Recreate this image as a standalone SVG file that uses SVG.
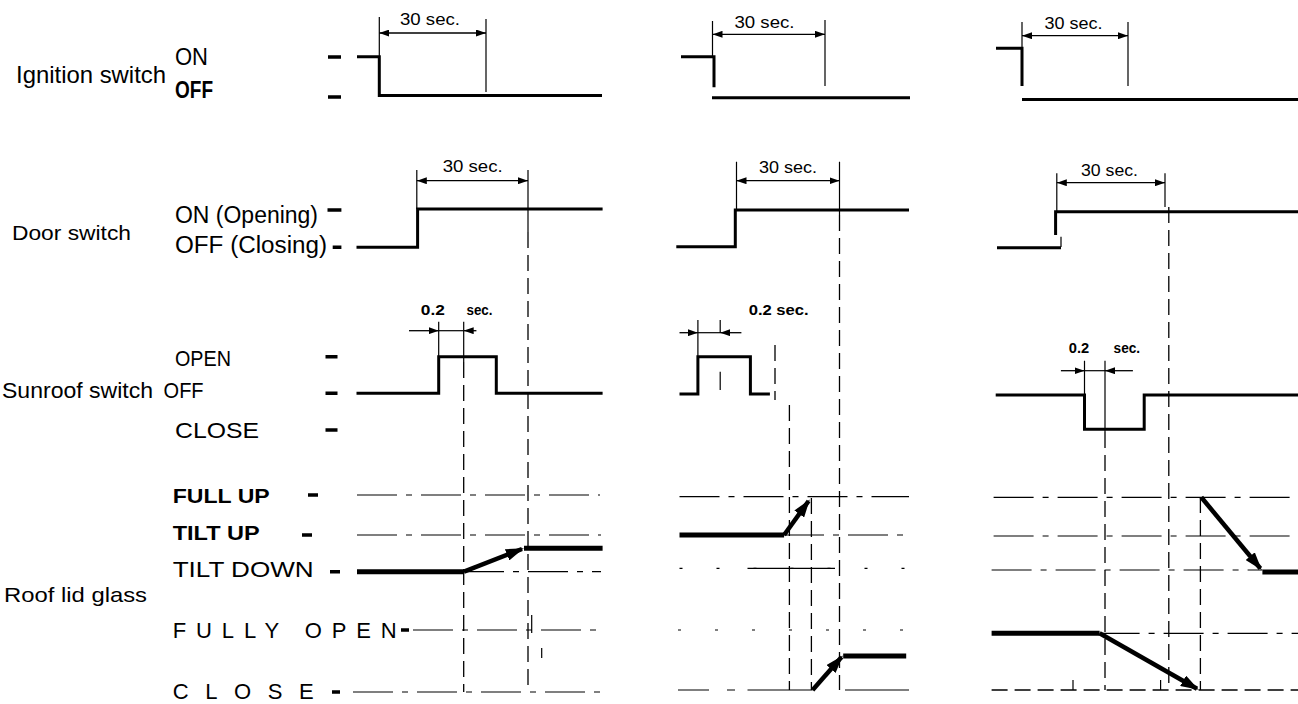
<svg xmlns="http://www.w3.org/2000/svg" width="1298" height="704" viewBox="0 0 1298 704">
<defs>
<style>
text{font-family:"Liberation Sans",Arial,sans-serif;fill:#000}
.lbl{font-size:23px}
.b{font-weight:bold}
.dimt{font-size:16px}
.small{font-size:14px;font-weight:bold}
.wave{stroke:#000;stroke-width:3;fill:none;stroke-linejoin:miter}
.thick{stroke:#000;stroke-width:5;fill:none}
.thin{stroke:#000;stroke-width:1.2;fill:none}
.dash{stroke:#000;stroke-width:1.3;fill:none;stroke-dasharray:16 7}
.dd{stroke:#000;stroke-width:1.2;fill:none;stroke-dasharray:40 9 6 9}
.dots{stroke:#000;stroke-width:1.2;fill:none;stroke-dasharray:3 34}
.tick{stroke:#000;stroke-width:3.5}
.dim{stroke:#000;stroke-width:1.3;fill:none;marker-end:url(#ah);marker-start:url(#ah)}
.dim1{stroke:#000;stroke-width:1.3;fill:none;marker-end:url(#ah)}
.big{stroke:#000;stroke-width:4.5;fill:none;marker-end:url(#bh)}
</style>
<marker id="ah" viewBox="0 0 10 7" refX="10" refY="3.5" markerWidth="10" markerHeight="7" markerUnits="userSpaceOnUse" orient="auto-start-reverse"><path d="M0,0 L10,3.5 L0,7 z" fill="#000"/></marker>
<marker id="bh" viewBox="0 0 18 12" refX="16" refY="6" markerWidth="18" markerHeight="12" markerUnits="userSpaceOnUse" orient="auto"><path d="M0,0 L18,6 L0,12 z" fill="#000"/></marker>
</defs>

<g id="labels">
<text x="16" y="83" font-size="24" textLength="150" lengthAdjust="spacingAndGlyphs">Ignition switch</text>
<text x="175" y="64.5" font-size="24" textLength="33" lengthAdjust="spacingAndGlyphs">ON</text>
<text x="175" y="98.3" font-size="24" class="b" textLength="38" lengthAdjust="spacingAndGlyphs">OFF</text>

<text x="12" y="240" font-size="21" textLength="119" lengthAdjust="spacingAndGlyphs">Door switch</text>
<text x="175" y="223" class="lbl" textLength="143" lengthAdjust="spacingAndGlyphs">ON (Opening)</text>
<text x="175" y="253" class="lbl" textLength="152" lengthAdjust="spacingAndGlyphs">OFF (Closing)</text>

<text x="175" y="366" font-size="22" textLength="56" lengthAdjust="spacingAndGlyphs">OPEN</text>
<text x="2" y="398.3" font-size="22" textLength="151" lengthAdjust="spacingAndGlyphs">Sunroof switch</text>
<text x="163.6" y="398.3" font-size="22" textLength="40" lengthAdjust="spacingAndGlyphs">OFF</text>
<text x="175" y="438.3" font-size="22" textLength="84" lengthAdjust="spacingAndGlyphs">CLOSE</text>

<text x="172.7" y="503.3" font-size="20" class="b" textLength="97" lengthAdjust="spacingAndGlyphs">FULL UP</text>
<text x="172.7" y="540" font-size="20" class="b" textLength="87" lengthAdjust="spacingAndGlyphs">TILT UP</text>
<text x="172.7" y="576.7" font-size="22" textLength="141" lengthAdjust="spacingAndGlyphs">TILT DOWN</text>
<text x="4" y="601.7" font-size="21" textLength="143" lengthAdjust="spacingAndGlyphs">Roof lid glass</text>
<text x="172.7" y="638.3" font-size="22" textLength="224" lengthAdjust="spacing">FULLY OPEN</text>
<text x="172.7" y="699" font-size="22" textLength="141" lengthAdjust="spacing">CLOSE</text>
</g>

<g id="ticks">
<path class="tick" d="M328,57 H341 M328,97 H341 M327.5,210 H341.4 M332.7,247.3 H341.4 M325.5,356.7 H337.5 M325.5,393.3 H337.5 M325.5,430 H337.5 M308,495 H318 M302,535 H312 M330,571.7 H340 M401,630 H409 M332,692 H340"/>
</g>

<g id="ignition-col1">
<path class="wave" d="M357,56.7 H379.3 V95.5 H602"/>
<path class="thin" d="M379.3,17 V56 M486,19 V92"/>
<path class="dim" d="M379.3,33 H486"/>
<text x="400" y="25" class="dimt" textLength="60" lengthAdjust="spacingAndGlyphs">30 sec.</text>
</g>
<g id="ignition-col2">
<path class="wave" d="M681,56.7 H714 V87.3 M712,97.7 H910"/>
<path class="thin" d="M712.5,21 V56 M825,20 V86"/>
<path class="dim" d="M712.5,34.3 H825"/>
<text x="734.5" y="28.3" class="dimt" textLength="60" lengthAdjust="spacingAndGlyphs">30 sec.</text>
</g>
<g id="ignition-col3">
<path class="wave" d="M996,48.3 H1022 V86 M1022,99.5 H1298"/>
<path class="thin" d="M1022,22 V48 M1128,22 V86"/>
<path class="dim" d="M1022,35.7 H1128"/>
<text x="1044.6" y="29.3" class="dimt" textLength="58" lengthAdjust="spacingAndGlyphs">30 sec.</text>
</g>

<g id="door-col1">
<path class="wave" d="M356.5,247.3 H417.6 V209 H602.6"/>
<path class="thin" d="M416.8,170 V209 M528,170 V232"/>
<path class="dim" d="M416.8,180.7 H528"/>
<text x="442.7" y="171.7" class="dimt" textLength="60" lengthAdjust="spacingAndGlyphs">30 sec.</text>
</g>
<g id="door-col2">
<path class="wave" d="M676.3,246.7 H735.3 V210 H909"/>
<path class="thin" d="M736.5,161.7 V210 M839.5,161.7 V215"/>
<path class="dim" d="M736.5,180.7 H839.5"/>
<text x="759" y="173.3" class="dimt" textLength="58" lengthAdjust="spacingAndGlyphs">30 sec.</text>
</g>
<g id="door-col3">
<path class="wave" d="M997,247.7 H1061 M1055.6,235 V211.7 H1298"/>
<path class="thin" d="M1061,236.7 V247 M1056.8,173.3 V211.7 M1165,173.3 V207"/>
<path class="dim" d="M1056.8,182.7 H1165"/>
<text x="1081" y="176" class="dimt" textLength="57" lengthAdjust="spacingAndGlyphs">30 sec.</text>
</g>

<g id="sunroof-col1">
<path class="wave" d="M356.5,393.3 H438.7 V356.7 H496.3 V393.3 H602.6"/>
<path class="thin" d="M438.7,321.7 V356.7 M463.7,321.7 V362"/>
<path class="dim1" d="M409,330.7 H438.7"/>
<path class="dim1" d="M476.4,330.7 H463.7"/>
<path class="thin" d="M438.7,330.7 H463.7"/>
<text x="420.8" y="315" class="small" textLength="24" lengthAdjust="spacingAndGlyphs">0.2</text>
<text x="466.5" y="315" class="small" textLength="26" lengthAdjust="spacingAndGlyphs">sec.</text>
</g>
<g id="sunroof-col2">
<path class="wave" d="M679.5,394 H697.9 V356.7 H750.4 V394 H769.9"/>
<path class="thin" d="M697.9,320 V356.7 M720.2,320 V333 M720.2,371.7 V390"/>
<path class="dim1" d="M679.5,332.7 H697.9"/>
<path class="dim1" d="M741.4,332.7 H720.2"/>
<path class="thin" d="M697.9,332.7 H720.2"/>
<text x="748.7" y="315" class="small" textLength="60" lengthAdjust="spacingAndGlyphs">0.2 sec.</text>
</g>
<g id="sunroof-col3">
<path class="wave" d="M995.7,395 H1084.5 V429.3 H1144.2 V395 H1298"/>
<path class="thin" d="M1084.5,360.7 V395 M1105,360.7 V432"/>
<path class="dim1" d="M1060.9,370.7 H1084.5"/>
<path class="dim1" d="M1132.9,370.7 H1105"/>
<path class="thin" d="M1084.5,370.7 H1105"/>
<text x="1068.8" y="353.3" class="small" textLength="20.4" lengthAdjust="spacingAndGlyphs">0.2</text>
<text x="1113.6" y="353.3" class="small" textLength="26.5" lengthAdjust="spacingAndGlyphs">sec.</text>
</g>

<g id="roof-col1">
<path class="dd" d="M357,495 H600 M357,535 H601 M464,571.7 H601 M413,630 H603 M353,692 H607"/>
<path class="thick" d="M357,571.7 H464 M524,548.3 H602.6"/>
<path class="big" d="M464,571.7 L522,549"/>
<path class="thin" d="M531.7,615 V633 M541.7,648 V658"/>
</g>
<g id="roof-col2">
<path class="dd" d="M679.5,496.7 H909 M784,535 H909"/>
<path class="thick" d="M679.5,535 H784.1 M843.2,656 H906.2"/>
<path class="dots" d="M679.5,568.3 H909"/>
<path class="thin" d="M747.5,568.3 H835"/>
<path class="dots" d="M678,630 H909"/>
<path class="thin" d="M678,690 H709 M727,690 H735 M747.5,690 H812.6 M845,690 H909"/>
<path class="big" d="M784.1,535 L808.6,501"/>
<path class="big" d="M812.6,690 L841.6,657"/>
</g>
<g id="roof-col3">
<path class="dd" d="M993.6,497.3 H1298 M993.6,536 H1298 M991.6,570 H1262.4 M1099.6,633.3 H1298"/>
<path class="dash" d="M991.6,690 H1298"/>
<path class="thick" d="M1262.4,572 H1298 M991.6,633.3 H1099.6"/>
<path class="thin" d="M1073,680 V690 M1160.6,680 V690"/>
<path class="big" d="M1201.3,497.3 L1260.4,568.5"/>
<path class="big" d="M1099.6,633.3 L1197,688.7"/>
</g>

<g id="connectors">
<path class="dash" d="M463.7,362 V692 M528,232 V692"/>
<path class="dash" d="M775,345 V400 M789.4,405 V690 M811.4,498 V690 M839.5,215 V690"/>
<path class="dash" d="M1105,432 V690 M1168.8,207 V690 M1200.4,497 V690"/>
</g>
</svg>
